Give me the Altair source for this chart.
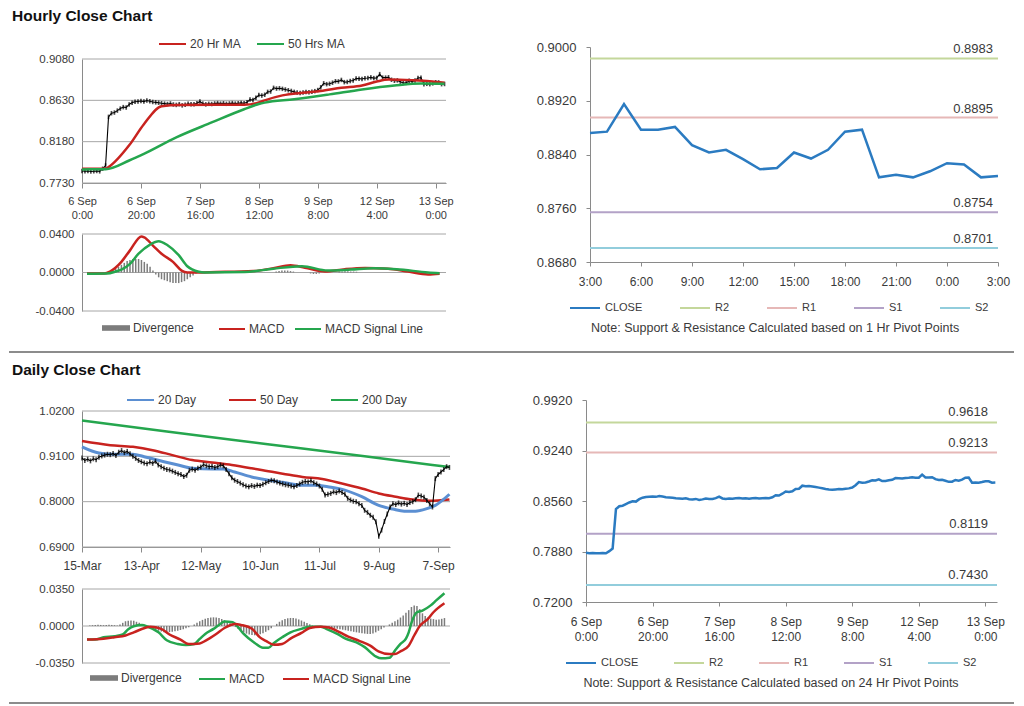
import json
import pandas as pd
import altair as alt

FONT = "Liberation Sans"
TXT = "#3a3a3a"
GRID = "#a6a6a6"
AXC = "#8a8a8a"
RED = "#c8231f"
GREEN = "#25a64e"
BLUE20 = "#5b8fd2"
CLOSE_BLUE = "#2b7bc1"
DIV_GRAY = "#7c7c7c"
LEVEL_COLORS = ["#c4d79b", "#e6b8b7", "#b3a2c7", "#92cddc"]

# ---------------- Hourly data (6 Sep 0:00 .. 13 Sep 3:00) ----------------
hourly_close = [
    0.7862, 0.7858, 0.7860, 0.7856, 0.7858, 0.7861, 0.7857, 0.7885, 0.7920, 0.8450,
    0.8490, 0.8497, 0.8518, 0.8540, 0.8556, 0.8552, 0.8585, 0.8605, 0.8614, 0.8618,
    0.8622, 0.8616, 0.8628, 0.8620, 0.8612, 0.8608, 0.8604, 0.8598, 0.8594, 0.8590,
    0.8596, 0.8585, 0.8580, 0.8588, 0.8575, 0.8582, 0.8593, 0.8586, 0.8588, 0.8598,
    0.8618, 0.8594, 0.8586, 0.8592, 0.8590, 0.8596, 0.8600, 0.8594, 0.8598, 0.8592,
    0.8596, 0.8600, 0.8594, 0.8598, 0.8602, 0.8598, 0.8610, 0.8638, 0.8634, 0.8658,
    0.8688, 0.8682, 0.8690, 0.8722, 0.8726, 0.8766, 0.8758, 0.8762, 0.8755, 0.8748,
    0.8740, 0.8732, 0.8722, 0.8715, 0.8710, 0.8716, 0.8722, 0.8718, 0.8724, 0.8730,
    0.8742, 0.8772, 0.8815, 0.8806, 0.8810, 0.8822, 0.8838, 0.8836, 0.8852, 0.8828,
    0.8830, 0.8840, 0.8846, 0.8868, 0.8866, 0.8862, 0.8870, 0.8874, 0.8880,
    0.8872, 0.8874, 0.8915, 0.8877, 0.8877, 0.8881, 0.8854, 0.8843, 0.8847, 0.8833,
    0.8818, 0.8820, 0.8843, 0.8834, 0.8847, 0.8874, 0.8877, 0.8806, 0.8810, 0.8806,
    0.8815, 0.8827, 0.8825, 0.8806, 0.8808,
]
hourly_tick_idx = [0, 20, 40, 60, 80, 100, 120]
hourly_tick_labels = ["6 Sep|0:00", "6 Sep|20:00", "7 Sep|16:00", "8 Sep|12:00",
                      "9 Sep|8:00", "12 Sep|4:00", "13 Sep|0:00"]

ma20h_idx = [0, 8, 9, 16, 21, 27, 33, 55, 60, 62, 68, 75, 81, 88, 95, 100, 104, 112, 118, 123]
ma20h_val = [0.7885, 0.7885, 0.7903, 0.8140, 0.8370, 0.8565, 0.8580, 0.8582, 0.8607, 0.8630,
             0.8684, 0.8713, 0.8731, 0.8767, 0.8792, 0.8835, 0.8857, 0.8850, 0.8839, 0.8821]
ma50h_idx = [0, 8, 16, 21, 32, 44, 55, 60, 62, 72, 84, 95, 106, 115, 123]
ma50h_val = [0.7878, 0.7880, 0.7975, 0.8047, 0.8227, 0.8389, 0.8533, 0.8590, 0.8605, 0.8641,
             0.8695, 0.8749, 0.8792, 0.8814, 0.8810]

macdh_idx = [0, 6, 8, 12, 15, 19, 20, 23, 26, 30, 33, 35, 45, 58, 65, 71, 76, 83, 90, 97,
             105, 112, 119, 123]
macdh_val = [-0.0010, -0.0010, 0.0010, 0.0110, 0.0230, 0.0375, 0.0365, 0.0280, 0.0195, 0.0110,
             0.0020, 0.0000, 0.0005, 0.0015, 0.0045, 0.0075, 0.0050, 0.0010, 0.0035, 0.0048,
             0.0040, 0.0010, -0.0020, -0.0012]
sigh_idx = [0, 7, 10, 12, 15, 18, 22, 25, 28, 32, 35, 39, 41, 55, 65, 75, 84, 92, 100, 108,
            119, 123]
sigh_val = [-0.0012, -0.0010, 0.0010, 0.0030, 0.0090, 0.0195, 0.0290, 0.0325, 0.0285, 0.0180,
            0.0065, 0.0008, 0.0000, 0.0005, 0.0040, 0.0065, 0.0020, 0.0030, 0.0044, 0.0035,
            0.0000, -0.0008]
divh_idx = [9, 10, 11, 12, 13, 14, 15, 16, 17, 18, 19, 20, 21, 22, 23, 24, 25, 26, 27, 28,
            29, 30, 31, 32, 33, 34, 35, 36, 37, 38,
            66, 67, 68, 69, 70, 71, 72, 78, 79, 80, 81, 88, 89, 90, 91, 92, 93, 94]
divh_val = [0.002, 0.004, 0.006, 0.008, 0.010, 0.012, 0.013, 0.014, 0.014, 0.014,
            0.013, 0.011, 0.009, 0.006, 0.002, -0.002, -0.005, -0.007, -0.008, -0.009,
            -0.010, -0.011, -0.011, -0.011, -0.010, -0.009, -0.007, -0.005, -0.003, -0.001,
            0.0010, 0.0015, 0.0020, 0.0020, 0.0020, 0.0015, 0.0010, -0.0010, -0.0015, -0.0015,
            -0.0010, 0.0010, 0.0010, 0.0012, 0.0012, 0.0010, 0.0010, 0.0008]

hour_labels = ["3:00", "6:00", "9:00", "12:00", "15:00", "18:00", "21:00", "0:00", "3:00"]
level_names = ["R2", "R1", "S1", "S2"]
hourly_level_vals = [0.8983, 0.8895, 0.8754, 0.8701]
daily_level_vals = [0.9618, 0.9213, 0.8119, 0.7430]

# ---------------- Daily data (15-Mar .. 13-Sep) ----------------
daily_close = [
    0.906, 0.900, 0.903, 0.899, 0.904, 0.902, 0.908, 0.911, 0.913, 0.915,
    0.914, 0.917, 0.912, 0.920, 0.924, 0.919, 0.922, 0.916, 0.910, 0.905,
    0.900, 0.897, 0.894, 0.892, 0.896, 0.893, 0.898, 0.889, 0.885, 0.881,
    0.878, 0.877, 0.874, 0.871, 0.868, 0.866, 0.861, 0.864, 0.876, 0.879,
    0.876, 0.881, 0.884, 0.890, 0.887, 0.885, 0.886, 0.883, 0.885, 0.889,
    0.887, 0.878, 0.868, 0.858, 0.852, 0.849, 0.845, 0.841, 0.838, 0.836,
    0.839, 0.837, 0.840, 0.839, 0.842, 0.846, 0.849, 0.852, 0.851, 0.848,
    0.845, 0.843, 0.841, 0.840, 0.838, 0.836, 0.839, 0.843, 0.847, 0.849,
    0.848, 0.851, 0.846, 0.843, 0.838, 0.830, 0.816, 0.818, 0.820, 0.824,
    0.822, 0.826, 0.822, 0.818, 0.808, 0.804, 0.801, 0.800, 0.795, 0.791,
    0.779, 0.774, 0.767, 0.762, 0.751, 0.716, 0.731, 0.752, 0.770, 0.787,
    0.795, 0.793, 0.797, 0.794, 0.796, 0.793, 0.798, 0.800, 0.805, 0.816,
    0.814, 0.811, 0.803, 0.795, 0.787, 0.856, 0.866, 0.872, 0.878, 0.885, 0.883,
]
daily_tick_idx = [0, 21, 42, 63, 84, 105, 126]
daily_tick_labels = ["15-Mar", "13-Apr", "12-May", "10-Jun", "11-Jul", "9-Aug", "7-Sep"]

ma20d_idx = [0, 6, 11, 18, 22, 29, 34, 39, 46, 50, 54, 60, 66, 71, 78, 83, 87, 93, 99, 105,
             110, 114, 118, 122, 125, 130]
ma20d_val = [0.933, 0.918, 0.915, 0.915, 0.909, 0.897, 0.889, 0.881, 0.879, 0.879, 0.872,
             0.860, 0.852, 0.847, 0.840, 0.840, 0.836, 0.828, 0.812, 0.791, 0.782, 0.777,
             0.777, 0.783, 0.791, 0.818]
ma50d_idx = [0, 10, 18, 25, 32, 39, 46, 53, 60, 64, 71, 78, 85, 92, 99, 105, 111, 117, 123, 130]
ma50d_val = [0.947, 0.937, 0.933, 0.925, 0.913, 0.901, 0.895, 0.889, 0.881, 0.876, 0.868,
             0.860, 0.855, 0.844, 0.832, 0.820, 0.812, 0.805, 0.802, 0.805]
ma200d_idx = [0, 30, 65, 100, 130]
ma200d_val = [0.997, 0.970, 0.940, 0.910, 0.884]

macdd_idx = [0, 3, 6, 10, 13, 15, 17, 20, 22, 26, 29, 33, 36, 39, 41, 43, 46, 48, 50, 53,
             55, 57, 61, 64, 66, 68, 71, 74, 78, 81, 85, 87, 91, 94, 98, 101, 105, 107, 110,
             112, 114, 116, 117, 118, 120, 122, 125, 127, 130]
macdd_val = [-0.0128, -0.0128, -0.0106, -0.0097, -0.0080, -0.0030, -0.0002, 0.0010, -0.0005,
             -0.0060, -0.0135, -0.0170, -0.0180, -0.0170, -0.0122, -0.0075, -0.0027, 0.0010,
             0.0043, 0.0035, -0.0013, -0.0075, -0.0160, -0.0205, -0.0205, -0.0160, -0.0106,
             -0.0060, -0.0027, -0.0006, -0.0006, -0.0027, -0.0075, -0.0120, -0.0154, -0.0200,
             -0.0287, -0.0306, -0.0300, -0.0233, -0.0170, -0.0120, -0.0060, 0.0030, 0.0130,
             0.0146, 0.0195, 0.0242, 0.0310]
sigd_idx = [0, 6, 10, 14, 17, 21, 23, 27, 30, 34, 37, 41, 43, 47, 50, 54, 56, 60, 63, 65, 68,
            71, 74, 78, 81, 85, 88, 92, 95, 99, 103, 106, 110, 112, 114, 117, 119, 121, 124,
            126, 130]
sigd_val = [-0.0128, -0.0120, -0.0106, -0.0090, -0.0060, -0.0019, -0.0006, -0.0027, -0.0080,
            -0.0128, -0.0170, -0.0165, -0.0140, -0.0075, -0.0019, 0.0019, 0.0010, -0.0027,
            -0.0110, -0.0140, -0.0178, -0.0170, -0.0120, -0.0065, -0.0019, -0.0006, -0.0015,
            -0.0060, -0.0100, -0.0140, -0.0186, -0.0240, -0.0265, -0.0265, -0.0240, -0.0186,
            -0.0090, 0.0000, 0.0067, 0.0130, 0.0215]
divd_val = [
    0.0000, 0.0005, 0.0008, 0.0010, 0.0012, 0.0010, 0.0008, 0.0010, 0.0012, 0.0010,
    0.0008, 0.0005, 0.0015, 0.0030, 0.0045, 0.0050, 0.0052, 0.0050, 0.0040, 0.0030,
    0.0020, 0.0010, -0.0005, -0.0015, -0.0025, -0.0035, -0.0045, -0.0052, -0.0058, -0.0060,
    -0.0058, -0.0055, -0.0050, -0.0045, -0.0038, -0.0030, -0.0022, -0.0012, 0.0000, 0.0015,
    0.0030, 0.0045, 0.0058, 0.0068, 0.0076, 0.0080, 0.0082, 0.0080, 0.0075, 0.0066,
    0.0055, 0.0040, 0.0025, 0.0008, -0.0010, -0.0028, -0.0045, -0.0060, -0.0072, -0.0080,
    -0.0085, -0.0088, -0.0085, -0.0078, -0.0068, -0.0055, -0.0040, -0.0022, 0.0000, 0.0020,
    0.0040, 0.0055, 0.0066, 0.0073, 0.0076, 0.0075, 0.0070, 0.0062, 0.0052, 0.0040,
    0.0028, 0.0016, 0.0005, -0.0002, -0.0004, -0.0006, -0.0008, -0.0010, -0.0014, -0.0018,
    -0.0022, -0.0026, -0.0030, -0.0035, -0.0040, -0.0045, -0.0050, -0.0055, -0.0060, -0.0064,
    -0.0068, -0.0072, -0.0075, -0.0075, -0.0070, -0.0060, -0.0045, -0.0030, -0.0015, 0.0000,
    0.0015, 0.0030, 0.0045, 0.0060, 0.0080, 0.0100, 0.0125, 0.0150, 0.0180, 0.0195,
    0.0190, 0.0160, 0.0120, 0.0095, 0.0080, 0.0070, 0.0065, 0.0060, 0.0062, 0.0068, 0.0075,
]

note_h = "Note: Support & Resistance Calculated based on 1 Hr Pivot Points"
note_d = "Note: Support & Resistance Calculated based on 24 Hr Pivot Points"

# ---------------- helpers ----------------
W, H = 1008, 696
one = pd.DataFrame({"t": [""]})
NUM4 = "replace(format(datum.value, '.4f'), '\u2212', '-')"


def ax(**kw):
    base = dict(title=None, labelColor=TXT, labelFont=FONT, domainColor=AXC, tickColor=AXC,
                labelOverlap=False, labelFlush=False, grid=False)
    base.update(kw)
    return alt.Axis(**base)


def multiline_expr(labels, step):
    return "split(" + json.dumps(labels) + "[round(datum.value / " + str(step) + ")], '|')"


def single_expr(labels, step):
    return json.dumps(labels) + "[round(datum.value / " + str(step) + ")]"


def line_legend(x, y, size, fs, pad, offset=3):
    return alt.Legend(orient="none", legendX=x, legendY=y, direction="horizontal", title=None,
                      symbolType="stroke", symbolSize=size, symbolStrokeWidth=2,
                      labelFontSize=fs, labelColor=TXT, labelFont=FONT, labelOffset=offset,
                      columnPadding=pad, gridAlign="none")


def bar_legend(x, y):
    return alt.Legend(orient="none", legendX=x, legendY=y, title=None,
                      symbolType="M-1,-0.2H1V0.2H-1Z", symbolSize=784, symbolStrokeWidth=0,
                      labelFontSize=12, labelColor=TXT, labelFont=FONT, labelOffset=3)


def text_layer(txt, x, y, size, weight="normal", align="left", color=TXT, baseline="alphabetic"):
    return alt.Chart(pd.DataFrame({"t": [txt]})).mark_text(
        align=align, baseline=baseline, fontSize=size, fontWeight=weight, color=color, font=FONT
    ).encode(x=alt.value(x), y=alt.value(y), text="t:N")


def hline_layer(x1, x2, y, color, width):
    return alt.Chart(one).mark_rule(color=color, strokeWidth=width).encode(
        x=alt.value(x1), x2=alt.value(x2), y=alt.value(y))


def series_df(idx, vals, name):
    return pd.DataFrame({"idx": idx, "value": vals, "series": name})


def grid_layer(ticks, y_enc, px0, px1):
    # horizontal gridlines at the axis tick values, spanning the panel's plot area
    return alt.Chart(pd.DataFrame({"value": ticks})).mark_rule(color=GRID, strokeWidth=1).encode(
        y=y_enc, x=alt.value(px0), x2=alt.value(px1))


def qscale(domain, rng):
    return alt.Scale(domain=domain, range=rng, nice=False, zero=False)


# ---------------- Hourly price panel ----------------
hourly_df = pd.DataFrame({"idx": list(range(len(hourly_close))), "value": hourly_close})
ma_h_df = pd.concat([series_df(ma20h_idx, ma20h_val, "20 Hr MA"),
                     series_df(ma50h_idx, ma50h_val, "50 Hrs MA")])
ph_ticks = [0.773, 0.818, 0.863, 0.908]
xh = alt.X("idx:Q", scale=qscale([0, 123.5], [74, 438]),
           axis=ax(orient="bottom", offset=175 - H, values=hourly_tick_idx,
                   labelExpr=multiline_expr(hourly_tick_labels, 20),
                   tickSize=5, labelPadding=7, labelFontSize=11, labelLineHeight=14))
yh = alt.Y("value:Q", scale=qscale([0.773, 0.908], [175, 51]),
           axis=ax(orient="left", offset=-74, values=ph_ticks, labelExpr=NUM4, ticks=False,
                   labelPadding=8, labelFontSize=11.5))
price_h = alt.layer(
    grid_layer(ph_ticks, yh, 74, 438),
    alt.Chart(hourly_df).mark_line(color="black", strokeWidth=1.1).encode(x=xh, y=yh),
    alt.Chart(hourly_df).mark_tick(orient="vertical", color="black", size=4.5, thickness=1.7
                                   ).encode(x=xh, y=yh),
    alt.Chart(ma_h_df).mark_line(strokeWidth=2.5, interpolate="monotone").encode(
        x=xh, y=yh,
        stroke=alt.Stroke("series:N", scale=alt.Scale(domain=["20 Hr MA", "50 Hrs MA"],
                                                      range=[RED, GREEN]),
                          legend=line_legend(150, 21.5, 729, 12, 12))),
)

# ---------------- Hourly MACD panel ----------------
divh_df = pd.DataFrame({"idx": divh_idx, "value": divh_val, "zero": 0.0, "kind": "Divergence"})
macd_h_df = pd.concat([series_df(macdh_idx, macdh_val, "MACD"),
                       series_df(sigh_idx, sigh_val, "MACD Signal Line")])
mh_ticks = [-0.04, 0, 0.04]
xh_m = alt.X("idx:Q", scale=qscale([0, 123.5], [74, 438]), axis=None)
yh_m = alt.Y("value:Q", scale=qscale([-0.04, 0.04], [303, 226]),
             axis=ax(orient="left", offset=-74, values=mh_ticks, labelExpr=NUM4, ticks=False,
                     labelPadding=8, labelFontSize=11.5))
macd_h = alt.layer(
    grid_layer(mh_ticks, yh_m, 74, 438),
    alt.Chart(divh_df).mark_bar(size=1.5).encode(
        x=xh_m, y=yh_m, y2="zero:Q",
        fill=alt.Fill("kind:N", scale=alt.Scale(domain=["Divergence"], range=[DIV_GRAY]),
                      legend=bar_legend(94, 306))),
    alt.Chart(macd_h_df).mark_line(strokeWidth=2.5, interpolate="monotone").encode(
        x=xh_m, y=yh_m,
        stroke=alt.Stroke("series:N", scale=alt.Scale(domain=["MACD", "MACD Signal Line"],
                                                      range=[RED, GREEN]),
                          legend=line_legend(210, 307, 676, 12, 6))),
)

# ---------------- Hourly S/R panel ----------------
close24_df = pd.DataFrame({"h": list(range(25)), "value": hourly_close[99:], "series": "CLOSE"})
lev_h_df = pd.DataFrame({"series": level_names, "value": hourly_level_vals})
xr = alt.X("h:Q", scale=qscale([0, 24], [582, 990]),
           axis=ax(orient="bottom", offset=254 - H, values=list(range(0, 25, 3)),
                   labelExpr=single_expr(hour_labels, 3),
                   tickSize=4, labelPadding=10, labelFontSize=12))
yr = alt.Y("value:Q", scale=qscale([0.868, 0.900], [254, 39]),
           axis=ax(orient="left", offset=-582, values=[0.868, 0.876, 0.884, 0.892, 0.900],
                   labelExpr=NUM4, tickSize=4, labelPadding=10, labelFontSize=13))
sr_h_stroke = alt.Stroke("series:N",
                         scale=alt.Scale(domain=["CLOSE"] + level_names,
                                         range=[CLOSE_BLUE] + LEVEL_COLORS),
                         legend=line_legend(561, 284, 900, 11, 33, 4))
right_h = alt.layer(
    alt.Chart(lev_h_df).mark_rule(strokeWidth=2).encode(
        y=yr, x=alt.value(582), x2=alt.value(990), stroke=sr_h_stroke),
    alt.Chart(close24_df).mark_line(strokeWidth=2.5).encode(x=xr, y=yr, stroke=sr_h_stroke),
    alt.Chart(lev_h_df).mark_text(align="right", baseline="middle", dy=-9, fontSize=13,
                                  color=TXT, font=FONT).encode(
        x=alt.value(985), y=yr, text=alt.Text("value:Q", format=".4f")),
)

# ---------------- Daily price panel ----------------
daily_df = pd.DataFrame({"idx": list(range(len(daily_close))), "value": daily_close})
ma_d_df = pd.concat([series_df(ma20d_idx, ma20d_val, "20 Day"),
                     series_df(ma50d_idx, ma50d_val, "50 Day"),
                     series_df(ma200d_idx, ma200d_val, "200 Day")])
pd_ticks = [0.69, 0.80, 0.91, 1.02]
xd = alt.X("idx:Q", scale=qscale([0, 130.2], [74, 442]),
           axis=ax(orient="bottom", offset=539 - H, values=daily_tick_idx,
                   labelExpr=single_expr(daily_tick_labels, 21),
                   tickSize=5, labelPadding=8, labelFontSize=12))
yd = alt.Y("value:Q", scale=qscale([0.69, 1.02], [539, 403]),
           axis=ax(orient="left", offset=-74, values=pd_ticks, labelExpr=NUM4, ticks=False,
                   labelPadding=8, labelFontSize=11.5))
ma_d_stroke = alt.Stroke("series:N", scale=alt.Scale(domain=["20 Day", "50 Day", "200 Day"],
                                                     range=[BLUE20, RED, GREEN]),
                         legend=line_legend(118, 377.5, 729, 12, 28))
price_d = alt.layer(
    grid_layer(pd_ticks, yd, 74, 442),
    alt.Chart(ma_d_df[ma_d_df["series"] != "20 Day"]).mark_line(
        strokeWidth=2.5, interpolate="monotone").encode(x=xd, y=yd, stroke=ma_d_stroke),
    alt.Chart(ma_d_df[ma_d_df["series"] == "20 Day"]).mark_line(
        strokeWidth=3, interpolate="monotone").encode(x=xd, y=yd, stroke=ma_d_stroke),
    alt.Chart(daily_df).mark_line(color="black", strokeWidth=1.1).encode(x=xd, y=yd),
    alt.Chart(daily_df).mark_tick(orient="vertical", color="black", size=5, thickness=1.6
                                  ).encode(x=xd, y=yd),
)

# ---------------- Daily MACD panel ----------------
divd_df = pd.DataFrame({"idx": list(range(len(divd_val))), "value": divd_val, "zero": 0.0,
                        "kind": "Divergence"})
macd_d_df = pd.concat([series_df(macdd_idx, macdd_val, "MACD"),
                       series_df(sigd_idx, sigd_val, "MACD Signal Line")])
md_ticks = [-0.035, 0, 0.035]
xd_m = alt.X("idx:Q", scale=qscale([0, 130.2], [74, 442]), axis=None)
yd_m = alt.Y("value:Q", scale=qscale([-0.035, 0.035], [655, 581]),
             axis=ax(orient="left", offset=-74, values=md_ticks, labelExpr=NUM4, ticks=False,
                     labelPadding=8, labelFontSize=11.5))
macd_d = alt.layer(
    grid_layer(md_ticks, yd_m, 74, 442),
    alt.Chart(divd_df).mark_bar(size=1.5).encode(
        x=xd_m, y=yd_m, y2="zero:Q",
        fill=alt.Fill("kind:N", scale=alt.Scale(domain=["Divergence"], range=[DIV_GRAY]),
                      legend=bar_legend(82, 656))),
    alt.Chart(macd_d_df).mark_line(strokeWidth=2.5, interpolate="monotone").encode(
        x=xd_m, y=yd_m,
        stroke=alt.Stroke("series:N", scale=alt.Scale(domain=["MACD", "MACD Signal Line"],
                                                      range=[GREEN, RED]),
                          legend=line_legend(190, 657, 676, 12, 14))),
)

# ---------------- Daily S/R panel (hourly close) ----------------
hourly_close_df = pd.DataFrame({"idx": list(range(len(hourly_close))), "value": hourly_close,
                                "series": "CLOSE"})
lev_d_df = pd.DataFrame({"series": level_names, "value": daily_level_vals})
xr_d = alt.X("idx:Q", scale=qscale([0, 123.5], [578, 989]),
             axis=ax(orient="bottom", offset=594 - H, values=hourly_tick_idx,
                     labelExpr=multiline_expr(hourly_tick_labels, 20),
                     tickSize=4, labelPadding=10, labelFontSize=12, labelLineHeight=15))
yr_d = alt.Y("value:Q", scale=qscale([0.72, 0.992], [594, 392]),
             axis=ax(orient="left", offset=-578, values=[0.72, 0.788, 0.856, 0.924, 0.992],
                     labelExpr=NUM4, tickSize=4, labelPadding=10, labelFontSize=13))
sr_d_stroke = alt.Stroke("series:N",
                         scale=alt.Scale(domain=["CLOSE"] + level_names,
                                         range=[CLOSE_BLUE] + LEVEL_COLORS),
                         legend=line_legend(557, 639, 900, 11, 31, 4))
right_d = alt.layer(
    alt.Chart(lev_d_df).mark_rule(strokeWidth=2).encode(
        y=yr_d, x=alt.value(578), x2=alt.value(989), stroke=sr_d_stroke),
    alt.Chart(hourly_close_df).mark_line(strokeWidth=2.5).encode(x=xr_d, y=yr_d,
                                                                stroke=sr_d_stroke),
    alt.Chart(lev_d_df).mark_text(align="right", baseline="middle", dy=-10, fontSize=13,
                                  color=TXT, font=FONT).encode(
        x=alt.value(980), y=yr_d, text=alt.Text("value:Q", format=".4f")),
)

# ---------------- page decorations ----------------
decor = [
    text_layer("Hourly Close Chart", 4, 13, 15.5, "bold", color="#111111"),
    text_layer("Daily Close Chart", 4, 367, 15.5, "bold", color="#111111"),
    text_layer(note_h, 767, 320, 12.5, align="center", baseline="middle"),
    text_layer(note_d, 763, 675, 12.5, align="center", baseline="middle"),
    hline_layer(1, 1006, 344, "#8c8c8c", 2),
    hline_layer(1, 1006, 695, "#8c8c8c", 2),
]

chart = alt.layer(price_h, macd_h, right_h, price_d, macd_d, right_d, *decor).resolve_scale(
    x="independent", y="independent", stroke="independent", fill="independent"
).properties(
    width=W, height=H, padding=0, autosize=alt.AutoSizeParams(type="none")
).configure(font=FONT).configure_view(strokeWidth=0)

chart.save("out.html", embed_options={"renderer": "svg", "actions": False})
